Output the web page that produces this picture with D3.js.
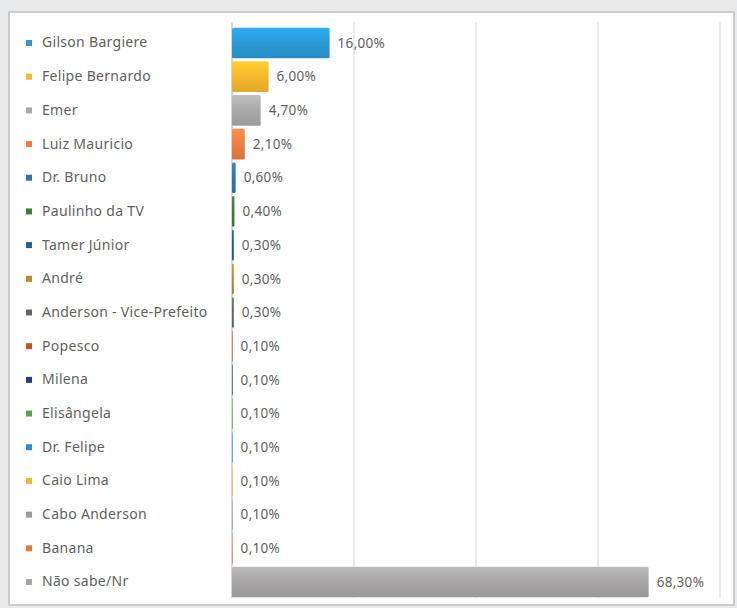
<!DOCTYPE html>
<html>
<head>
<meta charset="utf-8">
<script src="https://cdn.jsdelivr.net/npm/d3@7"></script>
<style>
  body { margin: 0; background: #e9eaec; }
  svg { display: block; }
  text { font-family: "Noto Sans", sans-serif; fill: #5f5f5f; }
</style>
</head>
<body>
<div id="chart"></div>
<script>
// candidates, top to bottom
var names = ["Gilson Bargiere", "Felipe Bernardo", "Emer", "Luiz Mauricio", "Dr. Bruno",
  "Paulinho da TV", "Tamer Júnior", "André", "Anderson - Vice-Prefeito", "Popesco",
  "Milena", "Elisângela", "Dr. Felipe", "Caio Lima", "Cabo Anderson", "Banana", "Não sabe/Nr"];
var values = [16.0, 6.0, 4.7, 2.1, 0.6, 0.4, 0.3, 0.3, 0.3, 0.1, 0.1, 0.1, 0.1, 0.1, 0.1, 0.1, 68.3];
var colors = ["#2a9ad6", "#f6b82c", "#a9a9a9", "#ec7e42", "#2e75b6", "#3e7c36", "#1f5f91", "#b8892c",
  "#666666", "#c4532a", "#21427a", "#5ba04a", "#2a8fd0", "#f4b731", "#9c9c9c", "#e7793f", "#a8a5a7"];
var gridTicks = [0, 20, 40, 60, 80];

var W = 737, H = 608;
var margin = {left: 232, right: 17, top: 27, bottom: 10};

var svg = d3.select('#chart').append('svg')
  .attr('width', W)
  .attr('height', H);

// white panel
svg.append('rect')
  .attr('x', 9).attr('y', 12)
  .attr('width', 725).attr('height', 593)
  .attr('fill', '#fff')
  .attr('stroke', '#cdcdcd')
  .attr('stroke-width', 2);

var x = d3.scaleLinear().domain([0, 80]).range([margin.left, 720]);
var y = d3.scaleBand().domain(names).range([margin.top, 598]).paddingInner(0.09).paddingOuter(0.02);

var pct = d3.formatLocale({decimal: ",", thousands: ".", grouping: [3], currency: ["", ""]}).format(".2f");

// gradient per bar
var defs = svg.append('defs');
colors.forEach(function (c, i) {
  var g = defs.append('linearGradient').attr('id', 'g' + i)
    .attr('x1', 0).attr('y1', 0).attr('x2', 0).attr('y2', 1);
  g.append('stop').attr('offset', '0%').attr('stop-color', d3.color(c).brighter(0.35));
  g.append('stop').attr('offset', '50%').attr('stop-color', c);
  g.append('stop').attr('offset', '100%').attr('stop-color', d3.color(c).darker(0.25));
});

// grid
svg.append('g')
  .selectAll('line')
  .data(gridTicks)
  .enter().append('line')
  .attr('x1', function (d) { return x(d); })
  .attr('x2', function (d) { return x(d); })
  .attr('y1', 22)
  .attr('y2', 598)
  .attr('stroke', function (d) { return d === 0 ? '#d6d6d6' : '#ebebeb'; })
  .attr('stroke-width', 2);

// bars
svg.append('g')
  .selectAll('rect')
  .data(values)
  .enter().append('rect')
  .attr('x', x(0))
  .attr('y', function (d, i) { return y(names[i]); })
  .attr('width', function (d) { return x(d) - x(0); })
  .attr('height', y.bandwidth())
  .attr('rx', 1.5)
  .attr('fill', function (d, i) { return 'url(#g' + i + ')'; });

// value labels
svg.append('g')
  .selectAll('text')
  .data(values)
  .enter().append('text')
  .attr('x', function (d) { return x(d) + 8; })
  .attr('y', function (d, i) { return y(names[i]) + y.bandwidth() / 2; })
  .attr('dy', '0.35em')
  .attr('font-size', 13.5)
  .attr('letter-spacing', 0.3)
  .text(function (d) { return pct(d) + '%'; });

// category labels with colour keys
var yAxis = d3.axisLeft(y).tickSize(0).tickPadding(0);
var ax = svg.append('g')
  .attr('transform', 'translate(42,0)')
  .call(yAxis);
ax.select('.domain').remove();
ax.selectAll('.tick text')
  .attr('text-anchor', 'start')
  .attr('font-size', 14)
  .attr('letter-spacing', 0.3)
  .style('font-family', '"Noto Sans", sans-serif')
  .style('fill', '#5f5f5f');
ax.selectAll('.tick').append('rect')
  .attr('x', -16).attr('y', -3)
  .attr('width', 6).attr('height', 6)
  .attr('fill', function (d, i) { return colors[i]; });
</script>
</body>
</html>
